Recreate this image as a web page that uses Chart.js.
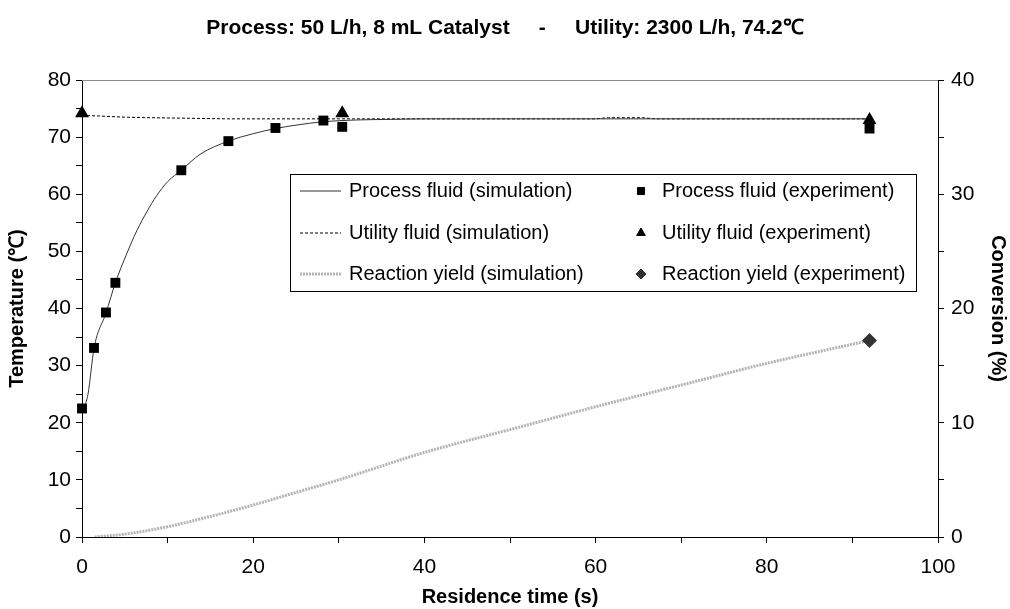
<!DOCTYPE html>
<html>
<head>
<meta charset="utf-8">
<script src="https://cdn.jsdelivr.net/npm/chart.js@4.4.1/dist/chart.umd.min.js"></script>
<style>
  html, body { margin: 0; padding: 0; background: #fff; }
  #wrap { width: 1010px; height: 609px; }
</style>
</head>
<body>
<div id="wrap"><canvas id="myChart" width="1010" height="609"></canvas></div>
<script>
// simulation curves
const procSimT = [0, 0.3, 0.7, 1.4, 2.8, 3.9, 5.2, 6.4, 7.6, 8.7, 10, 11.6, 13.8, 17.1, 20, 22.6, 25, 28.2, 32, 36, 40, 50, 60, 70, 80, 92];
const procSimY = [22.5, 23, 25, 33, 39.2, 44.5, 49.5, 53.6, 57.0, 59.7, 62.2, 64.2, 67.0, 69.3, 70.6, 71.5, 72.1, 72.7, 73.0, 73.1, 73.2, 73.2, 73.2, 73.2, 73.2, 73.2];
const utilSimT = [0, 2, 4.8, 8, 17, 30, 45, 60, 61.5, 65.5, 67, 80, 92];
const utilSimY = [73.8, 73.7, 73.5, 73.4, 73.2, 73.2, 73.2, 73.2, 73.4, 73.4, 73.2, 73.2, 73.2];
const yieldSimT = [1.5, 5, 10, 15, 20, 25, 30, 40, 50, 60, 70, 80, 92];
const yieldSimY = [0, 0.25, 0.9, 1.8, 2.8, 3.9, 5.0, 7.4, 9.4, 11.4, 13.3, 15.2, 17.2];

// experiments
const procExpT = [0, 1.4, 2.8, 3.9, 11.6, 17.1, 22.6, 28.2, 30.4, 92];
const procExpY = [22.5, 33.1, 39.3, 44.5, 64.2, 69.3, 71.6, 72.9, 71.8, 71.5];
const utilExpT = [0, 30.4, 92];
const utilExpY = [74.2, 74.2, 73.0];
const yieldExpT = [92];
const yieldExpY = [17.2];

const titleText = 'Process: 50 L/h, 8 mL Catalyst     -     Utility: 2300 L/h, 74.2\u2103';
const seriesLabels = [
  'Process fluid (simulation)', 'Utility fluid (simulation)', 'Reaction yield (simulation)',
  'Process fluid (experiment)', 'Utility fluid (experiment)', 'Reaction yield (experiment)'
];

const pts = (xs, ys) => xs.map((x, i) => ({ x: x, y: ys[i] }));
const FONT = "'Liberation Sans', Arial, sans-serif";

// plot frame + legend box drawn on the canvas
const framePlugin = {
  id: 'frame',
  beforeDatasetsDraw(chart) {
    const a = chart.chartArea, c = chart.ctx;
    c.save();
    c.strokeStyle = '#8c8c8c';
    c.lineWidth = 1;
    c.beginPath();
    c.moveTo(a.left, a.top + 0.5);
    c.lineTo(a.right, a.top + 0.5);
    c.stroke();
    c.restore();
  },
  afterDraw(chart) {
    const c = chart.ctx;
    const box = { l: 290, t: 174, r: 916, b: 291 };
    const rows = [191, 233, 274];
    c.save();
    c.fillStyle = '#fff';
    c.fillRect(box.l, box.t, box.r - box.l, box.b - box.t);
    c.strokeStyle = '#000';
    c.lineWidth = 1;
    c.strokeRect(box.l + 0.5, box.t + 0.5, box.r - box.l, box.b - box.t);
    c.font = '20px ' + FONT;
    c.fillStyle = '#000';
    c.textBaseline = 'middle';
    chart.data.datasets.forEach((ds, i) => {
      const y = rows[i % 3];
      if (i < 3) {
        c.save();
        c.strokeStyle = ds.borderColor;
        c.lineWidth = ds.borderWidth;
        c.setLineDash(ds.borderDash || []);
        c.beginPath();
        c.moveTo(300, y);
        c.lineTo(341, y);
        c.stroke();
        c.restore();
        c.fillText(ds.label, 349, y);
      } else {
        c.save();
        c.fillStyle = ds.backgroundColor;
        c.strokeStyle = ds.borderColor;
        Chart.helpers.drawPoint(c, { pointStyle: ds.pointStyle, radius: 5, rotation: 0, borderWidth: 1 }, 641, y);
        c.restore();
        c.fillText(ds.label, 662, y);
      }
    });
    c.restore();
  }
};

const tickEvery = (n) => (v) => (v % n === 0 ? v : '');

const ctx = document.getElementById('myChart').getContext('2d');
const chart = new Chart(ctx, {
  type: 'scatter',
  data: {
    datasets: [
      { label: seriesLabels[0], data: pts(procSimT, procSimY), showLine: true, pointRadius: 0,
        borderColor: '#333', borderWidth: 1, cubicInterpolationMode: 'monotone', yAxisID: 'y', order: 2 },
      { label: seriesLabels[1], data: pts(utilSimT, utilSimY), showLine: true, pointRadius: 0,
        borderColor: '#000', borderWidth: 1, borderDash: [3, 2], yAxisID: 'y', order: 2 },
      { label: seriesLabels[2], data: pts(yieldSimT, yieldSimY), showLine: true, pointRadius: 0,
        borderColor: '#b4b4b4', borderWidth: 3, borderDash: [2, 1], cubicInterpolationMode: 'monotone', yAxisID: 'y2', order: 2 },
      { label: seriesLabels[3], data: pts(procExpT, procExpY), pointStyle: 'rect', pointRadius: 7,
        backgroundColor: '#000', borderColor: '#000', borderWidth: 0, yAxisID: 'y', order: 0, clip: false },
      { label: seriesLabels[4], data: pts(utilExpT, utilExpY), pointStyle: 'triangle', pointRadius: 8,
        backgroundColor: '#000', borderColor: '#000', borderWidth: 0, yAxisID: 'y', order: 0, clip: false },
      { label: seriesLabels[5], data: pts(yieldExpT, yieldExpY), pointStyle: 'rectRot', pointRadius: 7.5,
        backgroundColor: '#333', borderColor: '#333', borderWidth: 0, yAxisID: 'y2', order: 0, clip: false }
    ]
  },
  options: {
    responsive: false,
    animation: false,
    events: [],
    layout: { padding: 0 },
    plugins: {
      legend: { display: false },
      tooltip: { enabled: false },
      title: {
        display: true, text: titleText, color: '#000',
        font: { family: FONT, size: 21, weight: 'bold', lineHeight: 1 },
        padding: { top: 18, bottom: 41 }
      }
    },
    scales: {
      x: {
        type: 'linear', min: 0, max: 100,
        afterFit: (s) => { s.height = 72; },
        border: { color: '#000', width: 1 },
        grid: { drawOnChartArea: false, drawTicks: true, tickLength: 6, color: '#000' },
        ticks: { stepSize: 10, autoSkip: false, maxRotation: 0, color: '#000', padding: 12,
          font: { family: FONT, size: 21 }, callback: tickEvery(20) },
        title: { display: true, text: 'Residence time (s)', color: '#000',
          font: { family: FONT, size: 20, weight: 'bold', lineHeight: 1.2 }, padding: { top: 0, bottom: 0 } }
      },
      y: {
        type: 'linear', position: 'left', min: 0, max: 80,
        afterFit: (s) => { s.width = 82; },
        border: { color: '#000', width: 1 },
        grid: { drawOnChartArea: false, drawTicks: true, tickLength: 6, color: '#000' },
        ticks: { stepSize: 5, autoSkip: false, color: '#000', padding: 5,
          font: { family: FONT, size: 21 }, callback: tickEvery(10) },
        title: { display: true, text: 'Temperature (\u2103)', color: '#000',
          font: { family: FONT, size: 20, weight: 'bold', lineHeight: 1.2 }, padding: { top: 5, bottom: 0 } }
      },
      y2: {
        type: 'linear', position: 'right', min: 0, max: 40,
        afterFit: (s) => { s.width = 72; },
        border: { color: '#000', width: 1 },
        grid: { drawOnChartArea: false, drawTicks: true, tickLength: 6, color: '#000' },
        ticks: { stepSize: 5, autoSkip: false, color: '#000', padding: 7,
          font: { family: FONT, size: 21 }, callback: tickEvery(10) },
        title: { display: true, text: 'Conversion (%)', color: '#000',
          font: { family: FONT, size: 20, weight: 'bold', lineHeight: 1.2 }, padding: { top: 0, bottom: 0 } }
      }
    }
  },
  plugins: [framePlugin]
});
</script>
</body>
</html>
